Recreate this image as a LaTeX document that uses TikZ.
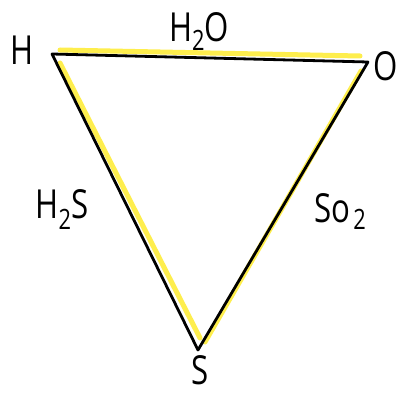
\documentclass[tikz,border=0pt]{standalone}
\usepackage{fontspec}
\setmainfont{Open Sans}
\newcommand{\hw}[1]{\scalebox{0.78}[1]{#1}}
\newcommand{\sub}[2]{\raisebox{#1}{\fontsize{28}{28}\selectfont #2}}
\begin{document}
\begin{tikzpicture}[x=1pt,y=-1pt,
  lbl/.style={inner sep=0pt,font=\fontsize{40}{40}\selectfont},
  edge/.style={line width=2.8pt,black,line cap=round,line join=round},
  hl/.style={line width=5pt,yellow!90!orange,opacity=0.7,line cap=round}]
\useasboundingbox (0,0) rectangle (402,395);
\fill[white] (0,0) rectangle (402,395);
\coordinate (h) at (52,54);
\coordinate (o) at (368,62);
\coordinate (s) at (198,350);
% highlighter
\draw[hl] (60,50) -- (360,56);
\draw[hl] (60,63) -- (200,338);
\draw[hl] (361,71) -- (205,342);
% edges
\draw[edge] (h) -- (o) -- (s) -- cycle;
% labels
\node[lbl] (lH) at (22,50) {\hw{H}};
\node[lbl] (lO) at (386,66) {\hw{O}};
\node[lbl] (lS) at (200,370) {\hw{S}};
\node[lbl] (lHO) at (199,32) {\hw{H\sub{-9pt}{2}O}};
\node[lbl] (lHS) at (62,210) {\hw{H\sub{-11pt}{2}S}};
\node[lbl] (lSO) at (340,212) {\hw{So\hspace{4pt}\sub{-7pt}{2}}};
\end{tikzpicture}
\end{document}
